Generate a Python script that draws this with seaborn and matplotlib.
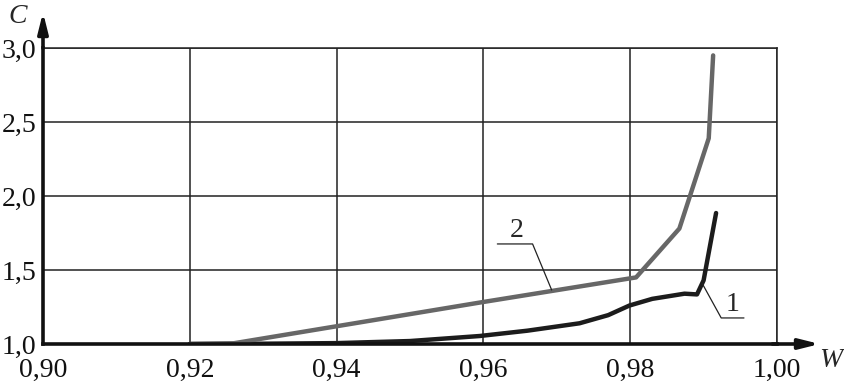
import numpy as np
import pandas as pd
import matplotlib
matplotlib.use("Agg")
import matplotlib.pyplot as plt
import seaborn as sns

# curve 1 (black)
w1 = [0.920, 0.930, 0.940, 0.950, 0.9595, 0.966, 0.9731, 0.9770, 0.9799, 0.9830, 0.9874, 0.9891, 0.9900, 0.9917]
c1 = [1.000, 1.002, 1.006, 1.020, 1.054, 1.090, 1.140, 1.195, 1.260, 1.305, 1.340, 1.335, 1.430, 1.885]
# curve 2 (grey)
w2 = [0.920, 0.926, 0.9595, 0.9808, 0.9867, 0.9907, 0.9913]
c2 = [1.000, 1.005, 1.280, 1.450, 1.780, 2.390, 2.950]

xticks = [0.90, 0.92, 0.94, 0.96, 0.98, 1.00]
yticks = [1.0, 1.5, 2.0, 2.5, 3.0]

df = pd.concat([
    pd.DataFrame({"W": w1, "C": c1, "curve": "1"}),
    pd.DataFrame({"W": w2, "C": c2, "curve": "2"}),
])

sns.set_style("white")
plt.rcParams["font.family"] = ["Liberation Serif", "DejaVu Serif"]

fig = plt.figure(figsize=(8.44, 3.85), dpi=100)
ax = fig.add_axes([43 / 844, 1 - 344 / 385, 734 / 844, 296 / 385])

sns.lineplot(data=df, x="W", y="C", hue="curve", palette={"1": "#1c1c1c", "2": "#676767"},
             sort=False, estimator=None, linewidth=3.2, legend=False, ax=ax)

ax.set_xlim(0.90, 1.00)
ax.set_ylim(1.0, 3.0)
ax.set_xticks(xticks)
ax.set_yticks(yticks)
ax.set_xticklabels([f"{t:.2f}".replace(".", ",") for t in xticks])
ax.set_yticklabels([f"{t:.1f}".replace(".", ",") for t in yticks])
ax.tick_params(length=0, labelsize=20, colors="#111111")
ax.tick_params(axis="x", pad=10)
ax.tick_params(axis="y", pad=5)
ax.set_xlabel("")
ax.set_ylabel("")
ax.grid(True, color="#222222", linewidth=1.1)

# lowest y label sits a little higher, as in the original
ax.get_yticklabels()[0].set_verticalalignment("center_baseline")

for s in ["top", "right"]:
    ax.spines[s].set_linewidth(1.1)
    ax.spines[s].set_color("#222222")
for s in ["left", "bottom"]:
    ax.spines[s].set_linewidth(2.6)
    ax.spines[s].set_color("#111111")

# arrows on axes
ax.annotate("", xy=(1.062, 0), xytext=(0.99, 0), xycoords="axes fraction",
            arrowprops=dict(arrowstyle="-|>,head_length=1.2,head_width=0.3", color="#111111", lw=2.6),
            annotation_clip=False)
ax.annotate("", xy=(0, 1.13), xytext=(0, 0.99), xycoords="axes fraction",
            arrowprops=dict(arrowstyle="-|>,head_length=1.2,head_width=0.3", color="#111111", lw=2.6),
            annotation_clip=False)

ax.text(-0.035, 1.105, "C", transform=ax.transAxes, fontsize=20, style="italic", ha="center", va="center")
ax.text(1.073, -0.055, "W", transform=ax.transAxes, fontsize=20, style="italic", ha="center", va="center")

# leader lines with curve numbers
ax.plot([0.9619, 0.9667, 0.9693], [1.676, 1.676, 1.365], color="#222222", lw=0.9, clip_on=False)
ax.text(0.9645, 1.68, "2", fontsize=20, ha="center", va="bottom")
ax.plot([0.9898, 0.9924, 0.9955], [1.41, 1.176, 1.176], color="#222222", lw=0.9, clip_on=False)
ax.text(0.9940, 1.18, "1", fontsize=20, ha="center", va="bottom")

fig.savefig("out.png", dpi=100)
